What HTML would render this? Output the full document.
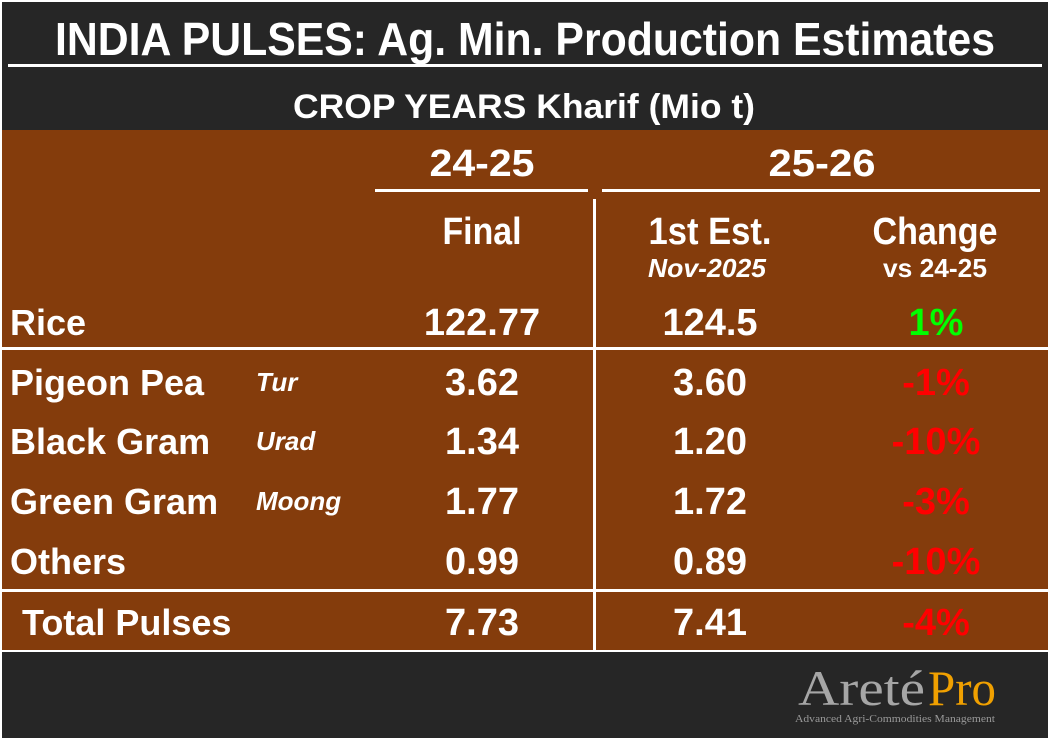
<!DOCTYPE html>
<html><head><meta charset="utf-8"><style>
html,body{margin:0;padding:0;background:#fff;}
svg{display:block;}
text{font-family:"Liberation Sans",sans-serif;font-weight:bold;fill:#fff;}
text.serif{font-family:"Liberation Serif",serif;font-weight:normal;}
</style></head><body>
<svg id="s" width="1050" height="740" viewBox="0 0 1050 740">
<rect x="0" y="0" width="1050" height="740" fill="#fff"/>
<rect x="2" y="2" width="1046" height="128" fill="#262626"/>
<text x="525" y="55" text-anchor="middle" font-size="46" textLength="940" lengthAdjust="spacingAndGlyphs">INDIA PULSES: Ag. Min. Production Estimates</text>
<rect x="8" y="64" width="1034" height="3" fill="#fff"/>
<text x="524" y="118" text-anchor="middle" font-size="34" textLength="462" lengthAdjust="spacingAndGlyphs">CROP YEARS Kharif (Mio t)</text>
<rect x="2" y="130" width="1046" height="520" fill="#843c0c"/>
<rect x="375" y="189" width="213" height="3" fill="#fff"/>
<rect x="602" y="189" width="438" height="3" fill="#fff"/>
<rect x="593" y="199" width="3" height="451" fill="#fff"/>
<rect x="2" y="347" width="1046" height="3" fill="#fff"/>
<rect x="2" y="589" width="1046" height="3" fill="#fff"/>
<rect x="2" y="650" width="1046" height="2" fill="#fff"/>
<rect x="2" y="652" width="1046" height="86" fill="#262626"/>
<text x="482" y="176" text-anchor="middle" font-size="38" textLength="105" lengthAdjust="spacingAndGlyphs">24-25</text>
<text x="822" y="176" text-anchor="middle" font-size="38" textLength="107" lengthAdjust="spacingAndGlyphs">25-26</text>
<text x="482" y="244" text-anchor="middle" font-size="38" textLength="79" lengthAdjust="spacingAndGlyphs">Final</text>
<text x="710" y="244" text-anchor="middle" font-size="38" textLength="123" lengthAdjust="spacingAndGlyphs">1st Est.</text>
<text x="707" y="277" text-anchor="middle" font-size="26" font-style="italic" textLength="118" lengthAdjust="spacingAndGlyphs">Nov-2025</text>
<text x="935" y="244" text-anchor="middle" font-size="38" textLength="125" lengthAdjust="spacingAndGlyphs">Change</text>
<text x="935" y="277" text-anchor="middle" font-size="26" textLength="104" lengthAdjust="spacingAndGlyphs">vs 24-25</text>
<g id="rows"></g>
<g>
<text class="serif" x="798" y="705" font-size="50" style="fill:#a6a6a6" textLength="127" lengthAdjust="spacingAndGlyphs">Areté</text>
<text class="serif" x="928" y="705" font-size="50" style="fill:#f0a000" textLength="68" lengthAdjust="spacingAndGlyphs">Pro</text>
<text class="serif" x="795" y="722" font-size="10" style="fill:#999" textLength="200" lengthAdjust="spacingAndGlyphs">Advanced Agri-Commodities Management</text>
</g>
</svg>
<script>
const labels=["Rice","Pigeon Pea","Black Gram","Green Gram","Others","Total Pulses"];
const localNames=["","Tur","Urad","Moong","",""];
const final2425=["122.77","3.62","1.34","1.77","0.99","7.73"];
const est2526=["124.5","3.60","1.20","1.72","0.89","7.41"];
const changes=["1%","-1%","-10%","-3%","-10%","-4%"];
const baselines=[335,395,454,514,574,635];
const g=document.getElementById('rows');
const NS="http://www.w3.org/2000/svg";
function t(x,y,str,anchor,size,fill,italic){
  const e=document.createElementNS(NS,'text');
  e.setAttribute('x',x);e.setAttribute('y',y);e.setAttribute('font-size',size);
  e.setAttribute('text-anchor',anchor);
  if(fill)e.style.fill=fill;
  if(italic)e.setAttribute('font-style','italic');
  e.textContent=str;g.appendChild(e);return e;
}
labels.forEach((lab,i)=>{
  const y=baselines[i];
  const a=t(i===5?22:10,y,lab,'start',36);
  
  
  if(localNames[i]){
    const b=t(256,y-4,localNames[i],'start',26,null,true);
    
    
  }
  const c=t(482,y,final2425[i],'middle',38);
  
  
  const d=t(710,y,est2526[i],'middle',38);
  
  
  const col=changes[i].startsWith('-')?'#ff0000':'#00ff00';
  const e=t(936,y,changes[i],'middle',38,col);
  
  
});
</script>
</body></html>
